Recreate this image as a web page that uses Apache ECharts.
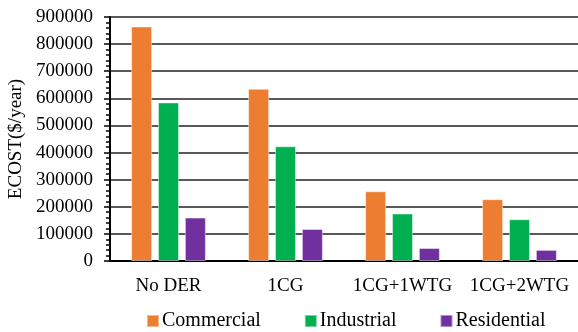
<!DOCTYPE html>
<html>
<head>
<meta charset="utf-8">
<script src="https://cdn.jsdelivr.net/npm/echarts@6/dist/echarts.min.js"></script>
<style>
  html, body { margin: 0; padding: 0; background: #fff; }
  #chart { width: 578px; height: 332px; }
</style>
</head>
<body>
<div id="chart"></div>
<script>
// Scenario categories and annual ECOST per customer sector
const categories = ['No DER', '1CG', '1CG+1WTG', '1CG+2WTG'];
const commercial = [865000, 635000, 257000, 228000];
const industrial = [585000, 423000, 175000, 154000];
const residential = [160000, 118000, 48000, 41000];
const seriesNames = ['Commercial', 'Industrial', 'Residential'];
const seriesColors = ['#ED7D31', '#00B050', '#7030A0'];

const FONT = '"Liberation Serif", "DejaVu Serif", serif';

const chart = echarts.init(document.getElementById('chart'), null, { renderer: 'canvas' });

function barSeries(name, data, color) {
  return {
    name: name,
    type: 'bar',
    data: data,
    barWidth: 21,
    barGap: '28%',
    itemStyle: {
      color: color,
      borderColor: 'rgba(255,255,255,0.45)',
      borderWidth: 1
    }
  };
}

chart.setOption({
  animation: false,
  backgroundColor: '#fff',
  textStyle: { fontFamily: FONT, color: '#000' },
  grid: { left: 110, right: 0, top: 17, bottom: 71, containLabel: false, outerBoundsMode: 'none' },
  legend: {
    top: 311,
    left: 146,
    padding: 0,
    itemWidth: 12,
    itemHeight: 12,
    itemGap: 43,
    icon: 'rect',
    textStyle: { fontFamily: FONT, fontSize: 20, color: '#000', padding: [0, 0, 0, -2] },
    data: seriesNames
  },
  xAxis: {
    type: 'category',
    data: categories,
    axisLine: { lineStyle: { color: '#000', width: 2 } },
    axisTick: { show: false },
    axisLabel: { fontFamily: FONT, fontSize: 19, color: '#000', margin: 16, interval: 0 }
  },
  yAxis: {
    type: 'value',
    min: 0,
    max: 900000,
    interval: 100000,
    name: 'ECOST($/year)',
    nameLocation: 'middle',
    nameGap: 82,
    nameRotate: 90,
    nameTextStyle: { fontFamily: FONT, fontSize: 19, color: '#000' },
    axisLine: { show: true, lineStyle: { color: '#000', width: 2 } },
    axisTick: { show: true, inside: false, length: 6, lineStyle: { color: '#000', width: 1.5 } },
    minorTick: { show: true, splitNumber: 5, length: 4, lineStyle: { color: '#000', width: 1.5 } },
    splitLine: { show: true, lineStyle: { color: '#222', width: 1.5 } },
    axisLabel: {
      fontFamily: FONT, fontSize: 19, color: '#000', margin: 17,
      formatter: function (v) { return String(v); }
    }
  },
  series: [
    barSeries(seriesNames[0], commercial, seriesColors[0]),
    barSeries(seriesNames[1], industrial, seriesColors[1]),
    barSeries(seriesNames[2], residential, seriesColors[2])
  ]
});
</script>
</body>
</html>
